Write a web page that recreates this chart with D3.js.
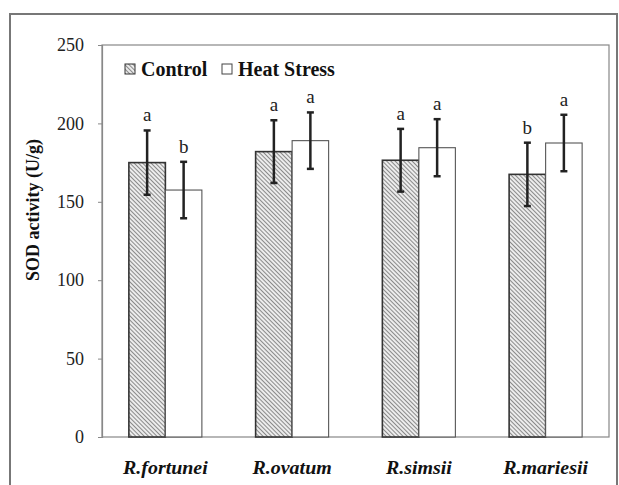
<!DOCTYPE html>
<html><head><meta charset="utf-8">
<script src="https://cdn.jsdelivr.net/npm/d3@7"></script>
<style>body{margin:0;background:#fff}svg{display:block}
svg text{font-family:"Liberation Serif","Times New Roman",Times,serif;}
</style>
</head><body>
<script>
const categories = ["R.fortunei","R.ovatum","R.simsii","R.mariesii"];
const series = ["Control","Heat Stress"];
const controlValues = [175, 182, 176.5, 167.5];
const heatValues = [157.5, 189, 184.5, 187.5];
const controlErr = [20.5, 20, 20, 20.2];
const heatErr = [18, 18, 18.2, 18];
const controlLetters = ["a","a","a","b"];
const heatLetters = ["b","a","a","a"];
const yTicks = [0,50,100,150,200,250];

const W = 619, H = 485;
const m = {left:102, right:10, top:45, bottom:48};
const svg = d3.select("body").append("svg").attr("width",W).attr("height",H);
const defs = svg.append("defs");
const pat = defs.append("pattern").attr("id","hatch").attr("patternUnits","userSpaceOnUse")
  .attr("width",3).attr("height",3).attr("patternTransform","rotate(-45)");
pat.append("rect").attr("width",3).attr("height",3).attr("fill","#ececec");
pat.append("rect").attr("width",1).attr("height",3).attr("fill","#8a8a8a");

// outer frame
svg.append("rect").attr("x",10).attr("y",14).attr("width",607).attr("height",H)
  .attr("fill","none").attr("stroke","#777").attr("stroke-width",2);

const x0 = d3.scaleBand().domain(categories).range([m.left, W-m.right]).paddingInner(0.424).paddingOuter(0.212);
const x1 = d3.scaleBand().domain(series).range([0, x0.bandwidth()]);
const y = d3.scaleLinear().domain([0,250]).range([H-m.bottom, m.top]);

// plot border
svg.append("rect").attr("x",m.left).attr("y",m.top).attr("width",W-m.right-m.left).attr("height",H-m.bottom-m.top)
  .attr("fill","none").attr("stroke","#888").attr("stroke-width",1.2);

const yAxis = svg.append("g").attr("transform",`translate(${m.left},0)`)
  .call(d3.axisLeft(y).tickValues(yTicks).tickSize(4).tickPadding(14));
yAxis.attr("font-family",null);
yAxis.select(".domain").attr("stroke","#888").attr("stroke-width",1.2);
yAxis.selectAll(".tick line").attr("stroke","#888");
yAxis.selectAll("text").style("font-size","18px").attr("fill","#222");

// x labels
svg.append("g").selectAll("text").data(categories).join("text")
  .attr("transform",d=>`translate(${x0(d)+x0.bandwidth()/2},474) scale(1.05,1)`)
  .attr("text-anchor","middle")
  .style("font-weight","bold").style("font-style","italic").style("font-size","19px").attr("fill","#111").text(d=>d);

// y title
svg.append("text").attr("transform","translate(39,210) rotate(-90)").attr("text-anchor","middle")
  .style("font-weight","bold").style("font-size","18px").attr("fill","#111")
  .text("SOD activity (U/g)");

const data = [
  {s:"Control", vals:controlValues, err:controlErr, let:controlLetters, fill:"url(#hatch)", stroke:"#333", sw:1.6},
  {s:"Heat Stress", vals:heatValues, err:heatErr, let:heatLetters, fill:"#fff", stroke:"#555", sw:1.1}
];
data.forEach(sr=>{
  const g = svg.append("g");
  categories.forEach((c,i)=>{
    const bx = x0(c)+x1(sr.s), bw = x1.bandwidth(), v = sr.vals[i];
    g.append("rect").attr("x",bx).attr("y",y(v)).attr("width",bw).attr("height",y(0)-y(v))
      .attr("fill",sr.fill).attr("stroke",sr.stroke).attr("stroke-width",sr.sw);
  });
});
data.forEach(sr=>{
  const g = svg.append("g").attr("stroke","#222").attr("stroke-width",2.5);
  categories.forEach((c,i)=>{
    const cx = x0(c)+x1(sr.s)+x1.bandwidth()/2, v = sr.vals[i], e = sr.err[i];
    g.append("line").attr("x1",cx).attr("x2",cx).attr("y1",y(v+e)).attr("y2",y(v-e));
    g.append("line").attr("x1",cx-3.5).attr("x2",cx+3.5).attr("y1",y(v+e)).attr("y2",y(v+e));
    g.append("line").attr("x1",cx-3.5).attr("x2",cx+3.5).attr("y1",y(v-e)).attr("y2",y(v-e));
    svg.append("text").attr("x",cx).attr("y",y(v+e)-9).attr("text-anchor","middle")
      .style("font-size","19px").attr("fill","#222").text(sr.let[i]);
  });
});

// legend
const lg = svg.append("g").attr("fill","#111");
const legItems = [{s:series[0], x:125, fill:"url(#hatch)", stroke:"#333"},{s:series[1], x:222, fill:"#fff", stroke:"#444"}];
legItems.forEach(it=>{
  lg.append("rect").attr("x",it.x).attr("y",64).attr("width",10).attr("height",10).attr("fill",it.fill).attr("stroke",it.stroke).attr("stroke-width",1);
  lg.append("text").attr("x",it.x+16).attr("y",76).style("font-weight","bold").style("font-size","20px").text(it.s);
});
</script>
</body></html>
